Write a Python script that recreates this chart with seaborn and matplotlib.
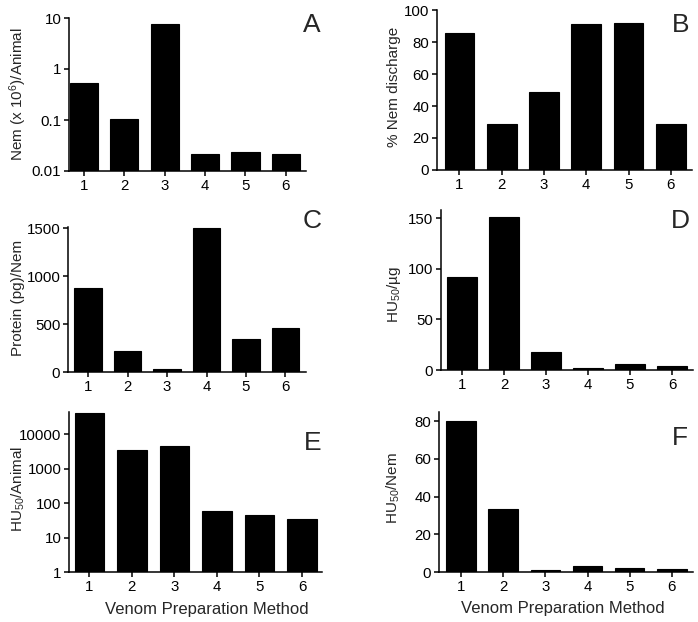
import matplotlib
matplotlib.use("Agg")
import matplotlib.pyplot as plt
import seaborn as sns
import pandas as pd

# -----------------------------
# Data
# -----------------------------
methods = ["1", "2", "3", "4", "5", "6"]

nem_per_animal = [0.54, 0.107, 7.6, 0.022, 0.024, 0.0215]      # A (x 10^6)
pct_discharge = [85.8, 28.5, 48.5, 91.0, 91.7, 28.5]           # B
protein_per_nem = [873, 222, 35, 1500, 341, 459]                # C
hu50_per_ug = [91.7, 151, 18, 2.3, 5.9, 3.9]                    # D
hu50_per_animal = [42600, 3550, 4640, 61, 44, 34]               # E
hu50_per_nem = [80, 33.4, 0.9, 3.2, 2.1, 1.8]                   # F

ticks_a = [0.01, 0.1, 1, 10]
ticklabels_a = ["0.01", "0.1", "1", "10"]
ticks_b = [0, 20, 40, 60, 80, 100]
ticks_c = [0, 500, 1000, 1500]
ticks_d = [0, 50, 100, 150]
ticks_e = [1, 10, 100, 1000, 10000]
ticklabels_e = ["1", "10", "100", "1000", "10000"]
ticks_f = [0, 20, 40, 60, 80]

xlabel = "Venom Preparation Method"

# -----------------------------
# Style
# -----------------------------
sns.set_style("ticks")
plt.rcParams["font.family"] = ["Liberation Sans", "DejaVu Sans"]
plt.rcParams["mathtext.fontset"] = "custom"
plt.rcParams["mathtext.rm"] = "Liberation Sans"
plt.rcParams["mathtext.it"] = "Liberation Sans:italic"
plt.rcParams["axes.linewidth"] = 1.1
plt.rcParams["xtick.major.width"] = 1.1
plt.rcParams["ytick.major.width"] = 1.1
plt.rcParams["xtick.major.size"] = 3.5
plt.rcParams["ytick.major.size"] = 3.5
plt.rcParams["xtick.labelsize"] = 10.8
plt.rcParams["ytick.labelsize"] = 10.8
plt.rcParams["xtick.color"] = "black"
plt.rcParams["ytick.color"] = "black"
plt.rcParams["axes.edgecolor"] = "black"

W, H = 698, 622
fig = plt.figure(figsize=(W / 100, H / 100), dpi=100)


def add_ax(left, right, top, bottom):
    return fig.add_axes([left / W, 1 - bottom / H, (right - left) / W, (bottom - top) / H])


def panel(ax, values, log=False):
    df = pd.DataFrame({"method": methods, "value": values})
    sns.barplot(data=df, x="method", y="value", color="black", width=0.7,
                saturation=1, edgecolor="black", linewidth=0.8, ax=ax)
    if log:
        ax.set_yscale("log")
        ax.minorticks_off()
    ax.set_xlabel("")
    ax.set_ylabel("")
    sns.despine(ax=ax)
    ax.tick_params(axis="both", direction="out", pad=2)


# -----------------------------
# Panels
# -----------------------------
# (left, right, top, bottom) in pixels
ax_a = add_ax(69, 306, 18, 171)
panel(ax_a, nem_per_animal, log=True)
ax_a.set_ylim(0.01, 10)
ax_a.set_yticks(ticks_a, ticklabels_a)
ax_a.set_xlim(-0.37, 5.5)

ax_b = add_ax(437, 692, 10, 170)
panel(ax_b, pct_discharge)
ax_b.set_ylim(0, 100)
ax_b.set_yticks(ticks_b)
ax_b.set_xlim(-0.53, 5.5)

ax_c = add_ax(68, 306, 227, 372)
panel(ax_c, protein_per_nem)
ax_c.set_ylim(0, 1515)
ax_c.set_yticks(ticks_c)
ax_c.set_xlim(-0.51, 5.52)

ax_d = add_ax(441, 693, 210, 370)
panel(ax_d, hu50_per_ug)
ax_d.set_ylim(0, 158)
ax_d.set_yticks(ticks_d)
ax_d.set_xlim(-0.5, 5.5)

ax_e = add_ax(69, 322, 412, 572)
panel(ax_e, hu50_per_animal, log=True)
ax_e.set_ylim(1, 45000)
ax_e.set_yticks(ticks_e, ticklabels_e)
ax_e.set_xlim(-0.48, 5.47)

ax_f = add_ax(439, 693, 412, 572)
panel(ax_f, hu50_per_nem)
ax_f.set_ylim(0, 84.8)
ax_f.set_yticks(ticks_f)
ax_f.set_xlim(-0.52, 5.5)

# -----------------------------
# Labels
# -----------------------------
ylabels = [
    ("Nem (x 10$^{6}$)/Animal", 18, 94),
    ("% Nem discharge", 394, 87),
    ("Protein (pg)/Nem", 18, 298),
    ("HU$_{50}$/µg", 394, 294),
    ("HU$_{50}$/Animal", 18, 489),
    ("HU$_{50}$/Nem", 393, 488),
]
for text, x, y in ylabels:
    fig.text(x / W, 1 - y / H, text, rotation=90, ha="center", va="center",
             fontsize=11)

letters = [("A", 303, 32), ("B", 672, 32), ("C", 303, 228),
           ("D", 671, 228), ("E", 304, 450), ("F", 672, 445)]
for text, x, y in letters:
    fig.text(x / W, 1 - y / H, text, ha="left", va="baseline", fontsize=19)

fig.text(207 / W, 1 - 614 / H, xlabel, ha="center", va="baseline", fontsize=12)
fig.text(563 / W, 1 - 613 / H, xlabel, ha="center", va="baseline", fontsize=12)

fig.savefig("out.png", dpi=100, facecolor="white")
